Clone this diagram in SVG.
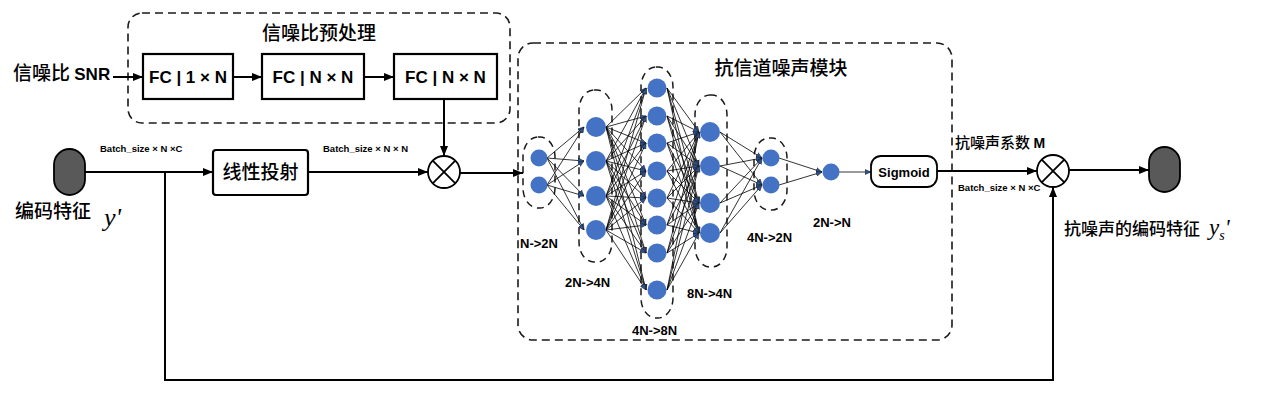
<svg xmlns="http://www.w3.org/2000/svg" width="1265" height="402" viewBox="0 0 1265 402">
<defs>
<style>
.dash{fill:none;stroke:#1a1a1a;stroke-width:1.6;stroke-dasharray:8 5}
.ldash{fill:none;stroke:#1a1a1a;stroke-width:1.5;stroke-dasharray:7 5}
.box{fill:#fff;stroke:#000;stroke-width:2.2}
.conn{fill:none;stroke:#000;stroke-width:2}
.nn line{stroke:#000;stroke-width:0.8;marker-end:url(#sa)}
.node{fill:#4472C4}
.cjk{font-family:"Noto Sans CJK SC",sans-serif;font-weight:500;fill:#000}
.b{font-family:"Liberation Sans",Arial,sans-serif;font-weight:bold;fill:#000}
.pill{fill:#595959;stroke:#000;stroke-width:1.8}
.mul{fill:#fff;stroke:#000;stroke-width:1.8}
.it{font-family:"Liberation Serif","Times New Roman",serif;font-style:italic;fill:#000}
</style>
<marker id="a" markerUnits="userSpaceOnUse" markerWidth="10" markerHeight="8" refX="10" refY="4" orient="auto"><path d="M0,0 L10,4 L0,8 z" fill="#000"/></marker>
<marker id="sa" markerUnits="userSpaceOnUse" markerWidth="6" markerHeight="6" refX="6" refY="3" orient="auto"><path d="M0,0.5 L6,3 L0,5.5 z" fill="#2F528F" stroke="#1a1a1a" stroke-width="0.5"/></marker>
</defs>
<rect width="1265" height="402" fill="#fff"/>

<g id="snr-preprocess">
<rect class="dash" x="128" y="13" width="382" height="110" rx="14"/>
<text class="cjk" x="319" y="40" font-size="19" text-anchor="middle">信噪比预处理</text>
</g>
<g id="snr-label"><text x="13" y="80" font-size="19"><tspan class="cjk">信噪比 </tspan><tspan class="b" font-size="17">SNR</tspan></text></g>
<g id="fc1"><rect class="box" x="143" y="54" width="90" height="45"/><text class="b" x="188" y="83" font-size="17" text-anchor="middle">FC | 1 × N</text></g>
<g id="fc2"><rect class="box" x="262" y="54" width="102" height="45"/><text class="b" x="313" y="83" font-size="17" text-anchor="middle">FC | N × N</text></g>
<g id="fc3"><rect class="box" x="394" y="54" width="103" height="45"/><text class="b" x="445.5" y="83" font-size="17" text-anchor="middle">FC | N × N</text></g>

<g id="input">
<rect class="pill" x="54" y="149" width="31" height="46" rx="15.5"/>
<text class="cjk" x="15" y="218" font-size="19">编码特征</text>
<text class="it" x="104" y="226" font-size="26">y'</text>
</g>
<g id="proj"><rect class="box" x="213" y="150" width="95" height="45" rx="3"/><text class="cjk" x="260.5" y="179" font-size="19" text-anchor="middle">线性投射</text></g>
<g id="mul1"><circle class="mul" cx="444" cy="172" r="16"/><path d="M432.7,160.7 L455.3,183.3 M455.3,160.7 L432.7,183.3" stroke="#000" stroke-width="1.8"/></g>

<g id="noise-module">
<rect class="dash" x="518" y="43" width="434" height="297" rx="15"/>
<text class="cjk" x="781" y="75" font-size="19" text-anchor="middle">抗信道噪声模块</text>
<rect class="ldash" x="523" y="137" width="32" height="71" rx="15" ry="20"/>
<rect class="ldash" x="579" y="90" width="33" height="172" rx="15" ry="20"/>
<rect class="ldash" x="641" y="67" width="32" height="251" rx="15" ry="20"/>
<rect class="ldash" x="695" y="95" width="32" height="172" rx="15" ry="20"/>
<rect class="ldash" x="754" y="138" width="33" height="72" rx="15" ry="20"/>
<g class="nn">
<line x1="547" y1="158" x2="584" y2="127"/><line x1="547" y1="158" x2="584" y2="161"/><line x1="547" y1="158" x2="584" y2="196"/><line x1="547" y1="158" x2="584" y2="230"/>
<line x1="547" y1="185" x2="584" y2="127"/><line x1="547" y1="185" x2="584" y2="161"/><line x1="547" y1="185" x2="584" y2="196"/><line x1="547" y1="185" x2="584" y2="230"/>

<line x1="606" y1="127" x2="646" y2="88"/><line x1="606" y1="127" x2="646" y2="116"/><line x1="606" y1="127" x2="646" y2="143"/><line x1="606" y1="127" x2="646" y2="171"/><line x1="606" y1="127" x2="646" y2="198"/><line x1="606" y1="127" x2="646" y2="225"/><line x1="606" y1="127" x2="646" y2="253"/><line x1="606" y1="127" x2="646" y2="290"/>
<line x1="606" y1="161" x2="646" y2="88"/><line x1="606" y1="161" x2="646" y2="116"/><line x1="606" y1="161" x2="646" y2="143"/><line x1="606" y1="161" x2="646" y2="171"/><line x1="606" y1="161" x2="646" y2="198"/><line x1="606" y1="161" x2="646" y2="225"/><line x1="606" y1="161" x2="646" y2="253"/><line x1="606" y1="161" x2="646" y2="290"/>
<line x1="606" y1="196" x2="646" y2="88"/><line x1="606" y1="196" x2="646" y2="116"/><line x1="606" y1="196" x2="646" y2="143"/><line x1="606" y1="196" x2="646" y2="171"/><line x1="606" y1="196" x2="646" y2="198"/><line x1="606" y1="196" x2="646" y2="225"/><line x1="606" y1="196" x2="646" y2="253"/><line x1="606" y1="196" x2="646" y2="290"/>
<line x1="606" y1="230" x2="646" y2="88"/><line x1="606" y1="230" x2="646" y2="116"/><line x1="606" y1="230" x2="646" y2="143"/><line x1="606" y1="230" x2="646" y2="171"/><line x1="606" y1="230" x2="646" y2="198"/><line x1="606" y1="230" x2="646" y2="225"/><line x1="606" y1="230" x2="646" y2="253"/><line x1="606" y1="230" x2="646" y2="290"/>

<line x1="667" y1="88" x2="699" y2="132"/><line x1="667" y1="88" x2="699" y2="166"/><line x1="667" y1="88" x2="699" y2="203"/><line x1="667" y1="88" x2="699" y2="233"/>
<line x1="667" y1="116" x2="699" y2="132"/><line x1="667" y1="116" x2="699" y2="166"/><line x1="667" y1="116" x2="699" y2="203"/><line x1="667" y1="116" x2="699" y2="233"/>
<line x1="667" y1="143" x2="699" y2="132"/><line x1="667" y1="143" x2="699" y2="166"/><line x1="667" y1="143" x2="699" y2="203"/><line x1="667" y1="143" x2="699" y2="233"/>
<line x1="667" y1="171" x2="699" y2="132"/><line x1="667" y1="171" x2="699" y2="166"/><line x1="667" y1="171" x2="699" y2="203"/><line x1="667" y1="171" x2="699" y2="233"/>
<line x1="667" y1="198" x2="699" y2="132"/><line x1="667" y1="198" x2="699" y2="166"/><line x1="667" y1="198" x2="699" y2="203"/><line x1="667" y1="198" x2="699" y2="233"/>
<line x1="667" y1="225" x2="699" y2="132"/><line x1="667" y1="225" x2="699" y2="166"/><line x1="667" y1="225" x2="699" y2="203"/><line x1="667" y1="225" x2="699" y2="233"/>
<line x1="667" y1="253" x2="699" y2="132"/><line x1="667" y1="253" x2="699" y2="166"/><line x1="667" y1="253" x2="699" y2="203"/><line x1="667" y1="253" x2="699" y2="233"/>
<line x1="667" y1="290" x2="699" y2="132"/><line x1="667" y1="290" x2="699" y2="166"/><line x1="667" y1="290" x2="699" y2="203"/><line x1="667" y1="290" x2="699" y2="233"/>

<line x1="720" y1="132" x2="762" y2="158"/><line x1="720" y1="132" x2="762" y2="185"/>
<line x1="720" y1="166" x2="762" y2="158"/><line x1="720" y1="166" x2="762" y2="185"/>
<line x1="720" y1="203" x2="762" y2="158"/><line x1="720" y1="203" x2="762" y2="185"/>
<line x1="720" y1="233" x2="762" y2="158"/><line x1="720" y1="233" x2="762" y2="185"/>

<line x1="779" y1="158" x2="822" y2="172"/><line x1="779" y1="185" x2="822" y2="172"/>
<line x1="839" y1="172" x2="871" y2="172"/>
</g>
<g id="nodes">
<circle class="node" cx="539" cy="158" r="8.5"/><circle class="node" cx="539" cy="185" r="8.5"/>
<circle class="node" cx="596" cy="127" r="10"/><circle class="node" cx="596" cy="161" r="10"/><circle class="node" cx="596" cy="196" r="10"/><circle class="node" cx="596" cy="230" r="10"/>
<circle class="node" cx="657" cy="88" r="9.5"/><circle class="node" cx="657" cy="116" r="9.5"/><circle class="node" cx="657" cy="143" r="9.5"/><circle class="node" cx="657" cy="171" r="9.5"/><circle class="node" cx="657" cy="198" r="9.5"/><circle class="node" cx="657" cy="225" r="9.5"/><circle class="node" cx="657" cy="253" r="9.5"/><circle class="node" cx="657" cy="290" r="9.5"/>
<circle class="node" cx="710" cy="132" r="10"/><circle class="node" cx="710" cy="166" r="10"/><circle class="node" cx="710" cy="203" r="10"/><circle class="node" cx="710" cy="233" r="10"/>
<circle class="node" cx="771" cy="158" r="8.5"/><circle class="node" cx="771" cy="185" r="8.5"/>
<circle class="node" cx="831" cy="172" r="8.5"/>
</g>
<g font-size="13">
<text class="b" x="520" y="248">N-&gt;2N</text>
<text class="b" x="565" y="287">2N-&gt;4N</text>
<text class="b" x="632" y="335">4N-&gt;8N</text>
<text class="b" x="687" y="298">8N-&gt;4N</text>
<text class="b" x="747" y="242">4N-&gt;2N</text>
<text class="b" x="813" y="227">2N-&gt;N</text>
</g>
</g>

<g id="sigmoid"><rect fill="#fff" stroke="#000" stroke-width="1.8" x="871" y="156" width="66" height="31" rx="10"/><text class="b" x="904" y="176.5" font-size="13" text-anchor="middle">Sigmoid</text></g>
<g id="mul2"><circle class="mul" cx="1053" cy="171" r="16"/><path d="M1041.7,159.7 L1064.3,182.3 M1064.3,159.7 L1041.7,182.3" stroke="#000" stroke-width="1.8"/></g>
<g id="output">
<rect class="pill" x="1149" y="147" width="31" height="45" rx="15.5"/>
<text class="cjk" x="1064" y="235" font-size="17">抗噪声的编码特征</text>
<text class="it" x="1209" y="235" font-size="23">y<tspan font-size="14" dy="5">s</tspan><tspan dy="-5">'</tspan></text>
</g>
<g id="labels">
<text class="b" x="100" y="151.5" font-size="9.5">Batch_size × N ×C</text>
<text class="b" x="323" y="151.5" font-size="9.5">Batch_size × N × N</text>
<text x="955" y="148" font-size="15"><tspan class="cjk">抗噪声系数 </tspan><tspan class="b" font-size="14">M</tspan></text>
<text class="b" x="958" y="191" font-size="9.5">Batch_size × N ×C</text>
</g>

<g id="connectors">
<line class="conn" x1="113" y1="77" x2="143" y2="77" marker-end="url(#a)"/>
<line class="conn" x1="233" y1="77" x2="262" y2="77" marker-end="url(#a)"/>
<line class="conn" x1="364" y1="77" x2="394" y2="77" marker-end="url(#a)"/>
<line class="conn" x1="444" y1="99" x2="444" y2="156" marker-end="url(#a)"/>
<line class="conn" x1="85" y1="172" x2="213" y2="172" marker-end="url(#a)"/>
<line class="conn" x1="308" y1="172" x2="428" y2="172" marker-end="url(#a)"/>
<line class="conn" x1="460" y1="173" x2="523" y2="173" marker-end="url(#a)"/>
<line class="conn" x1="937" y1="171" x2="1037" y2="171" marker-end="url(#a)"/>
<line class="conn" x1="1069" y1="170" x2="1149" y2="170" marker-end="url(#a)"/>
<path class="conn" d="M165,172 V380 H1053 V187" stroke-width="2.5" marker-end="url(#a)"/>
</g>
</svg>
